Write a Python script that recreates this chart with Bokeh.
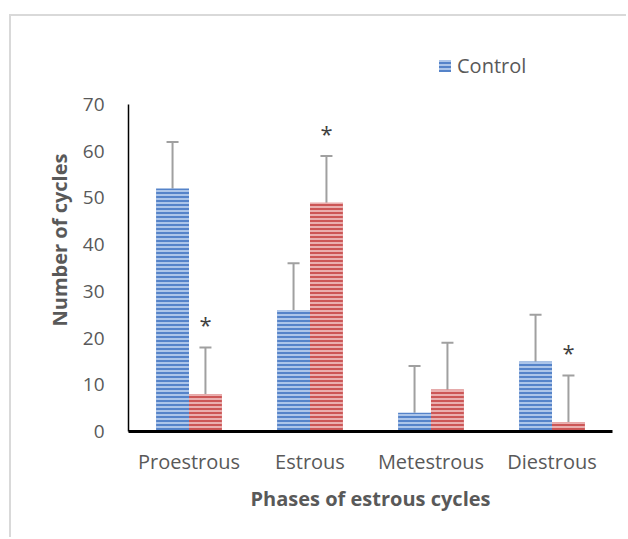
from bokeh.plotting import figure
from bokeh.models import FactorRange, ColumnDataSource, Whisker, TeeHead, Legend, LegendItem, FixedTicker, Range1d
from bokeh.transform import dodge
from bokeh.core.properties import value
from bokeh.embed import file_html
from bokeh.resources import INLINE

phases = ["Proestrous", "Estrous", "Metestrous", "Diestrous"]
control = [52, 26, 4, 15]
control_err = [10, 10, 10, 10]
treated = [8, 49, 9, 2]
treated_err = [10, 10, 10, 10]
significant = [True, True, False, True]
y_ticks = [0, 10, 20, 30, 40, 50, 60, 70]

FONT = "Open Sans"
GRAY = "#595959"

src_c = ColumnDataSource(dict(x=phases, top=control,
                              up=[v + e for v, e in zip(control, control_err)]))
src_t = ColumnDataSource(dict(x=phases, top=treated,
                              up=[v + e for v, e in zip(treated, treated_err)]))
sig_x = [p for p, s in zip(phases, significant) if s]
sig_y = [v + e + 5 for v, e, s in zip(treated, treated_err, significant) if s]
src_s = ColumnDataSource(dict(x=sig_x, y=sig_y, t=["*"] * len(sig_x)))

p = figure(x_range=FactorRange(*phases, range_padding=0), y_range=Range1d(0, 82),
           width=617, height=523, output_backend="svg", toolbar_location=None,
           min_border_left=117, min_border_right=16, min_border_top=32, min_border_bottom=108)
p.margin = (14, 0, 0, 9)
p.styles = {"border-left": "2px solid #d9d9d9", "border-top": "2px solid #d9d9d9"}
p.outline_line_color = None
p.grid.grid_line_color = None

W = 0.272
OFF = 0.136
rc = p.vbar(x=dodge("x", -OFF, range=p.x_range), top="top", width=W, source=src_c,
            fill_color="#5583c9", line_color=None,
            hatch_pattern="-", hatch_color="#c3d6f1", hatch_scale=4, hatch_weight=1.6)
rt = p.vbar(x=dodge("x", OFF, range=p.x_range), top="top", width=W, source=src_t,
            fill_color="#cc5656", line_color=None,
            hatch_pattern="-", hatch_color="#f1c5c5", hatch_scale=4, hatch_weight=1.6)

for src, off in ((src_c, -OFF), (src_t, OFF)):
    w = Whisker(base=dodge("x", off, range=p.x_range), lower="top", upper="up", source=src,
                dimension="height", line_color="#a0a0a0", line_width=2,
                lower_head=None,
                upper_head=TeeHead(size=12, line_color="#a0a0a0", line_width=2))
    p.add_layout(w)

p.text(x=dodge("x", OFF, range=p.x_range), y="y", text="t", source=src_s,
       text_font=value(FONT), text_font_size="22px", text_color="#404040",
       text_align="center", text_baseline="middle")

p.yaxis.ticker = FixedTicker(ticks=y_ticks)
p.yaxis.bounds = (0, 70)
p.yaxis.major_tick_line_color = None
p.yaxis.minor_tick_line_color = None
p.yaxis.axis_line_color = "black"
p.yaxis.axis_line_width = 1.5
p.yaxis.major_label_standoff = 18
p.xaxis.major_tick_line_color = None
p.xaxis.axis_line_color = "black"
p.xaxis.axis_line_width = 3
p.xaxis.major_label_standoff = 10
for ax in (p.xaxis, p.yaxis):
    ax.major_label_text_font = FONT
    ax.major_label_text_color = GRAY
    ax.axis_label_text_font = FONT
    ax.axis_label_text_font_size = "20px"
    ax.axis_label_text_font_style = "bold"
    ax.axis_label_text_color = GRAY
p.xaxis.major_label_text_font_size = "20px"
p.yaxis.major_label_text_font_size = "19px"
p.xaxis.axis_label = "Phases of estrous cycles"
p.yaxis.axis_label = "Number of cycles"
p.xaxis.axis_label_standoff = 7
p.yaxis.axis_label_standoff = 7

legend = Legend(items=[LegendItem(label="Control", renderers=[rc])],
                location=(309, 352), orientation="horizontal", padding=0, margin=0,
                label_text_font=FONT, label_text_font_size="20px", label_text_color=GRAY,
                glyph_width=15, glyph_height=15, label_standoff=5,
                background_fill_alpha=0, border_line_color=None)
p.add_layout(legend, "center")

open("out.html", "w").write(file_html(p, INLINE))
